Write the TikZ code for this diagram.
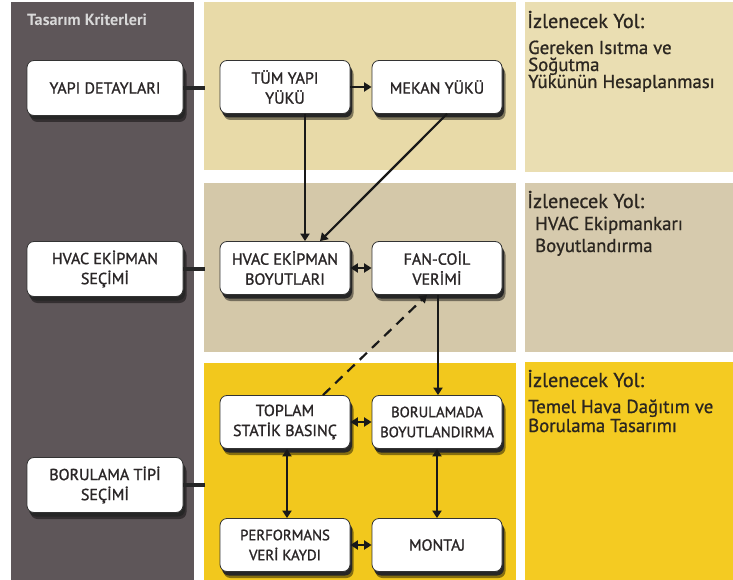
\documentclass[tikz,border=0pt]{standalone}
\usepackage{fontspec}
\setmainfont{PT Sans}
\usetikzlibrary{arrows.meta}

\definecolor{colDark}{HTML}{5E5659}
\definecolor{bandTop}{HTML}{E8DAA8}
\definecolor{bandTopR}{HTML}{EADEB2}
\definecolor{bandMid}{HTML}{D4C8A9}
\definecolor{bandMidR}{HTML}{D6CAAD}
\definecolor{bandLow}{HTML}{F2C81D}
\definecolor{bandLowR}{HTML}{F4CB22}
\definecolor{boxText}{HTML}{2A2627}
\definecolor{pathText}{HTML}{2B2620}

\tikzset{
  card/.style={draw=black!80, line width=0.8pt, fill=white, rounded corners=7pt,
    align=center, text=boxText, inner sep=2pt,
    font=\fontsize{16}{20}\selectfont\addfontfeatures{FakeBold=1.3}},
  leftcard/.style={card, minimum width=156pt, minimum height=55pt},
  midcard/.style={card, minimum width=130pt, minimum height=53pt},
  smallcard/.style={font=\fontsize{14.8}{20}\selectfont\addfontfeatures{FakeBold=1.3}},
  % shadow plates placed just below and right of each card
  plate/.style={draw=none, rounded corners=7pt, inner sep=0pt},
  leftplate/.style={plate, minimum width=156pt, minimum height=55pt},
  midplate/.style={plate, minimum width=130pt, minimum height=53pt},
  stub/.style={line width=4pt, black!85},
  link/.style={line width=2.2pt, black!90},
  tip/.style={-{Triangle[length=7.5pt,width=9pt]}},
  bitip/.style={{Triangle[length=7.5pt,width=9pt]}-{Triangle[length=7.5pt,width=9pt]}},
  pathhead/.style={anchor=base west, text=pathText, inner sep=0pt,
    font=\fontsize{20.2}{22}\selectfont\addfontfeatures{FakeBold=0.9}},
  pathline/.style={anchor=base west, text=pathText, inner sep=0pt,
    font=\fontsize{18.8}{22}\selectfont\addfontfeatures{FakeBold=0.9}}
}

\begin{document}
\begin{tikzpicture}[x=1pt,y=-1pt]
\useasboundingbox (0,0) rectangle (733,580);

% background columns and bands
\fill[white] (0,0) rectangle (733,580);
\fill[colDark] (11,2) rectangle (194,580);
\fill[bandTop] (204,2) rectangle (516,170);
\fill[bandTopR] (525,2) rectangle (733,172);
\fill[bandMid] (204,183) rectangle (516,352);
\fill[bandMidR] (525,183) rectangle (733,352);
\fill[bandLow] (204,363) rectangle (516,580);
\fill[bandLowR] (525,362) rectangle (733,580);

% column title
\node[anchor=base west, inner sep=0pt, text=white!85!black, font=\bfseries\fontsize{16.2}{18}\selectfont] (title) at (27,26) {Tasarım Kriterleri};

% shadow plates: soft outer plate, then a dark inner plate
\foreach \n/\kind/\x/\y/\bg in {yd/left/105/88/colDark, hs/left/105/269/colDark, bt/left/105/485/colDark,
    ty/mid/285/87/bandTop, mk/mid/437/87/bandTop, hb/mid/285/268/bandMid, fc/mid/437/268/bandMid,
    ts/mid/285/422/bandLow, bb/mid/437/422/bandLow, pv/mid/285/545/bandLow, mt/mid/437/545/bandLow} {
  \node[\kind plate, fill=black!45!\bg] (\n-soft) at (\x+3.5,\y+6.5) {};
  \node[\kind plate, fill=black!85] (\n-dark) at (\x+2,\y+4) {};
}

% criteria cards
\node[leftcard] (yd) at (105,88) {YAPI DETAYLARI};
\node[leftcard] (hs) at (105,269) {HVAC EKİPMAN\\SEÇİMİ};
\node[leftcard] (bt) at (105,485) {BORULAMA TİPİ\\SEÇİMİ};

% process cards
\node[midcard] (ty) at (285,87) {TÜM YAPI\\YÜKÜ};
\node[midcard] (mk) at (437,87) {MEKAN YÜKÜ};
\node[midcard] (hb) at (285,268) {HVAC EKİPMAN\\BOYUTLARI};
\node[midcard] (fc) at (437,268) {FAN-COİL\\VERİMİ};
\node[midcard] (ts) at (285,422) {TOPLAM\\STATİK BASINÇ};
\node[midcard, smallcard] (bb) at (437,422) {BORULAMADA\\BOYUTLANDIRMA};
\node[midcard, smallcard] (pv) at (285,545) {PERFORMANS\\VERİ KAYDI};
\node[midcard] (mt) at (437,545) {MONTAJ};

% short links from the criteria cards
\coordinate (e1) at (205,88);
\coordinate (e2) at (205,269);
\coordinate (e3) at (205,485);
\draw[stub] (yd.east) -- (e1);
\draw[stub] (hs.east) -- (e2);
\draw[stub] (bt.east) -- (e3);

% flow
\draw[link, tip] (ty) -- (mk);
\draw[link, tip] ([xshift=20pt]ty.south) -- ([xshift=20pt]hb.north);
\draw[link, tip] ([xshift=10pt]mk.south) -- ([xshift=35pt]hb.north);
\draw[link, bitip] (hb) -- (fc);
\draw[link, tip] ([xshift=1pt]fc.south) -- ([xshift=1pt]bb.north);
\draw[link, tip, dash pattern=on 10pt off 7pt] ([xshift=38pt]ts.north) -- ([xshift=-10pt]fc.south);
\draw[link, bitip] (ts) -- (bb);
\draw[link, bitip] ([xshift=2pt]ts.south) -- ([xshift=2pt]pv.north);
\draw[link, bitip] (bb) -- (mt);
\draw[link, bitip] (pv) -- (mt);

% path notes
\node[pathhead] (h1) at (527,28) {İzlenecek Yol:};
\node[pathline] (a1) at (528,54) {Gereken Isıtma ve};
\node[pathline] (a2) at (528,71) {Soğutma};
\node[pathline] (a3) at (528,88) {Yükünün Hesaplanması};

\node[pathhead] (h2) at (527,208) {İzlenecek Yol:};
\node[pathline] (b1) at (535,230) {HVAC Ekipmankarı};
\node[pathline] (b2) at (535,252) {Boyutlandırma};

\node[pathhead] (h3) at (527,387) {İzlenecek Yol:};
\node[pathline] (c1) at (528,413) {Temel Hava Dağıtım ve};
\node[pathline] (c2) at (528,432) {Borulama Tasarımı};
\end{tikzpicture}
\end{document}
